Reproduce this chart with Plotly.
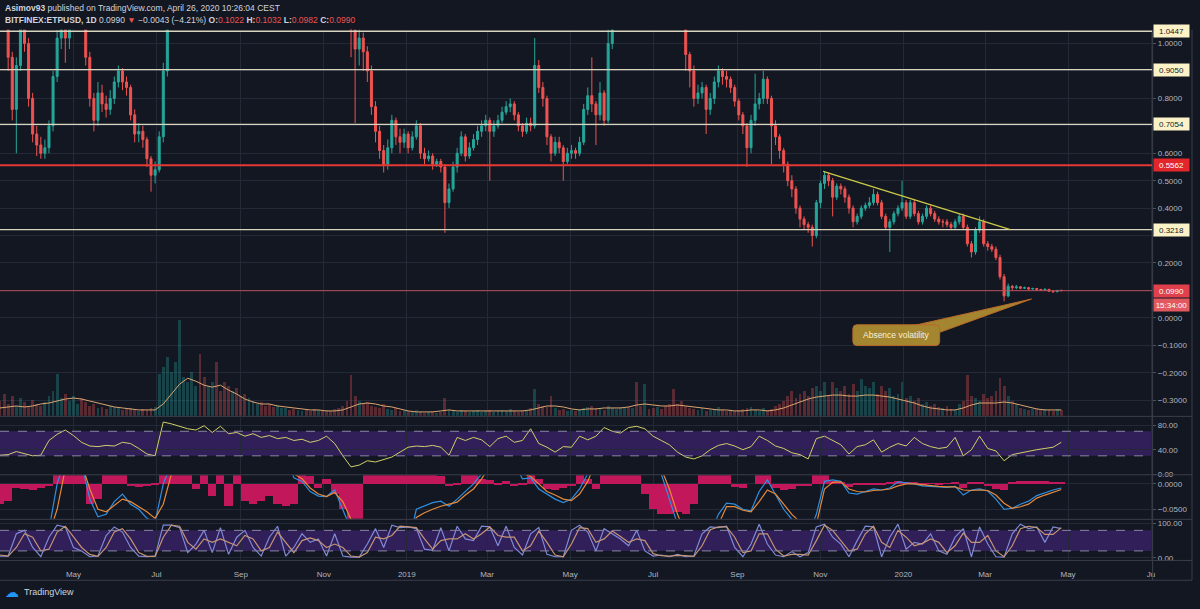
import plotly.graph_objects as go
import pandas as pd

# ---------------- DATA ----------------
start_date = "2018-03-08"          # first candle (3-day steps)
first_open = 1.45

close = [
    1.30, 1.12, 0.95, 0.76, 0.92, 1.10, 1.00, 0.80, 0.67, 0.63,
    0.60, 0.62, 0.70, 0.88, 1.02, 1.10, 1.02, 1.08, 1.12, 1.15,
    1.10, 0.95, 0.80, 0.72, 0.82, 0.78, 0.76, 0.80, 0.86, 0.90,
    0.86, 0.84, 0.74, 0.67, 0.68, 0.65, 0.58, 0.52, 0.54, 0.66,
    0.90, 1.15, 1.40, 1.70, 1.90, 2.10, 2.30, 2.50, 2.60, 2.40,
    2.30, 2.50, 2.70, 2.60, 2.40, 2.20, 2.00, 2.10, 2.00, 1.90,
    1.80, 1.85, 1.95, 2.05, 1.90, 1.75, 1.70, 1.60, 1.65, 1.75,
    1.85, 1.80, 1.70, 1.75, 1.80, 1.72, 1.65, 1.60, 1.62, 1.58,
    1.55, 1.52, 1.48, 1.45, 1.40, 1.30, 1.05, 0.98, 1.02, 0.97,
    0.90, 0.77, 0.68, 0.61, 0.56, 0.62, 0.72, 0.66, 0.64, 0.67,
    0.62, 0.66, 0.70, 0.60, 0.58, 0.59, 0.56, 0.57, 0.55, 0.42,
    0.47, 0.55, 0.60, 0.66, 0.59, 0.62, 0.65, 0.68, 0.70, 0.72,
    0.68, 0.70, 0.72, 0.75, 0.77, 0.78, 0.74, 0.70, 0.68, 0.71,
    0.70, 0.92, 0.84, 0.80, 0.66, 0.60, 0.64, 0.62, 0.57, 0.60,
    0.61, 0.60, 0.64, 0.76, 0.81, 0.78, 0.74, 0.82, 0.72, 1.00,
    1.20, 1.40, 1.60, 1.80, 1.70, 1.90, 1.80, 1.60, 1.70, 1.50,
    1.45, 1.55, 1.50, 1.40, 1.35, 1.30, 1.25, 1.10, 0.96, 0.90,
    0.80, 0.82, 0.84, 0.76, 0.80, 0.86, 0.90, 0.88, 0.87, 0.84,
    0.79, 0.74, 0.70, 0.62, 0.72, 0.78, 0.80, 0.87, 0.80, 0.70,
    0.66, 0.61, 0.56, 0.50, 0.47, 0.40, 0.36, 0.34, 0.33, 0.30,
    0.42, 0.49, 0.52, 0.50, 0.44, 0.48, 0.47, 0.44, 0.40, 0.35,
    0.37, 0.40, 0.41, 0.42, 0.45, 0.42, 0.37, 0.33, 0.35, 0.38,
    0.40, 0.42, 0.37, 0.42, 0.38, 0.35, 0.37, 0.40, 0.38, 0.36,
    0.35, 0.35, 0.34, 0.33, 0.35, 0.37, 0.33, 0.27, 0.24, 0.32,
    0.35, 0.27, 0.26, 0.25, 0.22, 0.15, 0.08, 0.115, 0.11, 0.113,
    0.108, 0.11, 0.105, 0.107, 0.103, 0.101, 0.104, 0.097, 0.095, 0.100, 0.099,
]

high = [
    1.50, 1.33, 1.14, 0.97, 0.95, 1.14, 1.12, 1.02, 0.82, 0.70,
    0.66, 0.65, 0.72, 0.90, 1.05, 1.15, 1.13, 1.12, 1.16, 1.20,
    1.18, 1.12, 0.97, 0.82, 0.86, 0.85, 0.81, 0.83, 0.88, 0.92,
    0.91, 0.88, 0.85, 0.76, 0.71, 0.70, 0.66, 0.59, 0.57, 0.68,
    0.93, 1.20, 1.45, 1.75, 1.95, 2.15, 2.35, 2.60, 2.70, 2.65,
    2.45, 2.55, 2.75, 2.78, 2.65, 2.45, 2.25, 2.15, 2.15, 2.05,
    1.95, 1.90, 2.00, 2.10, 2.08, 1.95, 1.80, 1.75, 1.70, 1.80,
    1.90, 1.88, 1.82, 1.78, 1.84, 1.83, 1.75, 1.68, 1.66, 1.65,
    1.62, 1.58, 1.55, 1.50, 1.47, 1.42, 1.32, 1.08, 1.06, 1.04,
    0.99, 0.92, 0.79, 0.70, 0.63, 0.65, 0.74, 0.73, 0.69, 0.69,
    0.68, 0.68, 0.72, 0.71, 0.62, 0.61, 0.60, 0.58, 0.58, 0.56,
    0.49, 0.57, 0.62, 0.68, 0.67, 0.64, 0.67, 0.70, 0.72, 0.74,
    0.73, 0.72, 0.74, 0.77, 0.79, 0.80, 0.79, 0.75, 0.71, 0.73,
    0.73, 1.02, 0.94, 0.86, 0.81, 0.67, 0.66, 0.66, 0.63, 0.62,
    0.63, 0.62, 0.66, 0.78, 0.84, 0.95, 0.79, 0.86, 0.83, 1.20,
    1.25, 1.45, 1.65, 1.85, 1.85, 1.95, 1.95, 1.85, 1.75, 1.72,
    1.52, 1.60, 1.58, 1.52, 1.42, 1.38, 1.33, 1.28, 1.12, 0.97,
    0.92, 0.85, 0.86, 0.85, 0.82, 0.88, 0.92, 0.91, 0.90, 0.88,
    0.85, 0.80, 0.75, 0.71, 0.74, 0.89, 0.82, 0.90, 0.88, 0.81,
    0.72, 0.67, 0.62, 0.57, 0.52, 0.48, 0.41, 0.37, 0.35, 0.34,
    0.43, 0.50, 0.535, 0.53, 0.51, 0.49, 0.49, 0.48, 0.45, 0.41,
    0.38, 0.41, 0.42, 0.44, 0.47, 0.46, 0.43, 0.38, 0.36, 0.39,
    0.41, 0.50, 0.43, 0.43, 0.43, 0.39, 0.38, 0.41, 0.41, 0.39,
    0.37, 0.36, 0.36, 0.35, 0.36, 0.38, 0.38, 0.34, 0.28, 0.33,
    0.37, 0.36, 0.28, 0.27, 0.26, 0.23, 0.16, 0.125, 0.12, 0.12,
    0.116, 0.114, 0.113, 0.110, 0.109, 0.106, 0.107, 0.105, 0.100, 0.102, 0.1032,
]

low = [
    1.25, 1.08, 0.90, 0.72, 0.60, 0.90, 0.97, 0.77, 0.64, 0.59,
    0.58, 0.58, 0.60, 0.68, 0.86, 0.98, 0.93, 0.98, 1.05, 1.08,
    1.06, 0.92, 0.77, 0.68, 0.70, 0.75, 0.73, 0.74, 0.78, 0.84,
    0.83, 0.81, 0.72, 0.64, 0.64, 0.62, 0.55, 0.46, 0.49, 0.53,
    0.64, 0.88, 1.12, 1.35, 1.65, 1.85, 2.05, 2.25, 2.45, 2.35,
    2.20, 2.25, 2.45, 2.55, 2.35, 2.15, 1.95, 1.95, 1.95, 1.85,
    1.75, 1.76, 1.82, 1.92, 1.85, 1.70, 1.65, 1.55, 1.57, 1.62,
    1.72, 1.76, 1.66, 1.68, 1.73, 1.68, 1.62, 1.56, 1.57, 1.54,
    1.50, 1.48, 1.44, 1.42, 1.36, 1.26, 0.95, 0.71, 0.92, 0.90,
    0.86, 0.74, 0.64, 0.58, 0.53, 0.54, 0.60, 0.63, 0.60, 0.62,
    0.60, 0.61, 0.65, 0.58, 0.56, 0.57, 0.54, 0.55, 0.53, 0.31,
    0.40, 0.46, 0.53, 0.59, 0.57, 0.58, 0.61, 0.63, 0.66, 0.68,
    0.50, 0.66, 0.69, 0.71, 0.74, 0.75, 0.72, 0.68, 0.66, 0.67,
    0.68, 0.69, 0.82, 0.77, 0.63, 0.57, 0.59, 0.60, 0.50, 0.56,
    0.58, 0.58, 0.59, 0.63, 0.74, 0.75, 0.63, 0.72, 0.70, 0.71,
    0.98, 1.18, 1.38, 1.58, 1.65, 1.68, 1.75, 1.55, 1.56, 1.45,
    1.40, 1.42, 1.46, 1.36, 1.32, 1.27, 1.20, 1.06, 0.90, 0.84,
    0.77, 0.78, 0.80, 0.67, 0.74, 0.78, 0.84, 0.85, 0.84, 0.82,
    0.77, 0.72, 0.67, 0.55, 0.60, 0.70, 0.76, 0.78, 0.78, 0.56,
    0.63, 0.58, 0.53, 0.48, 0.44, 0.38, 0.33, 0.32, 0.31, 0.26,
    0.29, 0.40, 0.47, 0.48, 0.37, 0.43, 0.45, 0.42, 0.38, 0.33,
    0.34, 0.36, 0.39, 0.40, 0.41, 0.41, 0.36, 0.32, 0.24, 0.34,
    0.37, 0.39, 0.36, 0.36, 0.37, 0.34, 0.34, 0.36, 0.37, 0.35,
    0.34, 0.33, 0.33, 0.32, 0.32, 0.34, 0.32, 0.26, 0.22, 0.23,
    0.31, 0.26, 0.245, 0.24, 0.21, 0.14, 0.06, 0.075, 0.10, 0.104,
    0.104, 0.105, 0.102, 0.103, 0.100, 0.098, 0.099, 0.095, 0.092, 0.094, 0.0982,
]

# relative volume per candle
volume = [
    15, 22, 12, 20, 10, 18, 14, 9, 16, 12,
    10, 14, 20, 25, 43, 18, 22, 15, 20, 12,
    18, 14, 10, 12, 8, 9, 7, 10, 9, 8,
    6, 7, 8, 6, 5, 7, 6, 8, 9, 43,
    50, 60, 45, 55, 97, 40, 35, 45, 30, 63,
    40, 30, 35, 55, 25, 35, 30, 25, 28, 20,
    22, 18, 15, 12, 14, 10, 12, 9, 11, 8,
    8, 6, 7, 6, 5, 6, 5, 7, 6, 5,
    6, 5, 7, 8, 10, 15, 42, 20, 15, 12,
    14, 10, 9, 8, 12, 7, 6, 8, 5, 6,
    5, 4, 6, 4, 3, 4, 5, 3, 4, 18,
    6, 5, 4, 6, 5, 4, 5, 6, 4, 5,
    6, 4, 5, 6, 5, 7, 5, 4, 6, 5,
    8, 27, 12, 10, 9, 20, 8, 6, 7, 5,
    6, 5, 7, 8, 9, 10, 8, 7, 6, 10,
    8, 7, 9, 8, 9, 8, 35, 10, 32, 7,
    8, 9, 7, 10, 12, 27, 12, 15, 10, 8,
    7, 6, 8, 5, 6, 7, 9, 6, 5, 6,
    5, 6, 7, 8, 9, 6, 5, 8, 6, 7,
    10, 12, 15, 20, 25, 18, 22, 25, 20, 28,
    30, 25, 35, 20, 35, 28, 25, 30, 22, 32,
    25, 38, 30, 28, 35, 22, 30, 25, 28, 20,
    22, 35, 18, 20, 15, 18, 12, 14, 10, 12,
    9, 8, 10, 7, 6, 12, 15, 42, 20, 18,
    15, 22, 18, 20, 25, 39, 30, 20, 15, 12,
    8, 7, 6, 7, 8, 6, 7, 6, 5, 7, 6,
]

# indicators, 6-day steps from start_date
vol_ma = [
    8, 9, 10, 9, 10, 12, 13, 15, 17, 18,
    17, 15, 13, 11, 9, 8, 7, 6, 6, 6,
    12, 22, 32, 38, 35, 31, 29, 31, 26, 22,
    17, 14, 12, 12, 10, 9, 8, 7, 6, 6,
    5, 5, 6, 9, 12, 13, 12, 10, 9, 7,
    5, 4, 4, 4, 5, 6, 5, 5, 5, 5,
    5, 5, 5, 5, 5, 6, 8, 10, 10, 9,
    7, 6, 7, 7, 8, 8, 8, 9, 11, 12,
    11, 10, 10, 11, 10, 9, 8, 7, 6, 6,
    5, 5, 6, 6, 5, 6, 8, 11, 14, 17,
    19, 20, 21, 21, 20, 20, 21, 21, 20, 19,
    17, 15, 13, 10, 8, 7, 6, 6, 8, 11,
    13, 13, 13, 14, 13, 11, 9, 7, 6, 6, 6,
]

rsi = [
    31, 32, 37, 33, 30, 31, 55, 65, 72, 63,
    52, 46, 45, 47, 46, 52, 50, 42, 33, 30,
    85, 82, 78, 74, 72, 79, 68, 78, 66, 68,
    62, 66, 60, 63, 58, 60, 55, 57, 52, 55,
    62, 50, 30, 12, 15, 22, 20, 24, 28, 36,
    44, 46, 45, 47, 44, 31, 60, 55, 60, 56,
    45, 58, 62, 52, 55, 74, 50, 44, 36, 45,
    44, 62, 56, 62, 76, 70, 67, 76, 78, 74,
    62, 55, 48, 36, 28, 25, 30, 40, 47, 50,
    46, 40, 45, 62, 55, 46, 42, 35, 32, 25,
    58, 62, 55, 48, 33, 45, 48, 56, 36, 44,
    50, 46, 60, 50, 45, 42, 44, 60, 30, 40,
    62, 42, 38, 22, 32, 35, 38, 40, 42, 44, 52,
]

macd = [
    -0.1, -0.1, -0.1, -0.1, -0.1, -0.1, -0.09, 0.0, 0.05, 0.06,
    0.04, -0.03, -0.065, -0.06, -0.035, -0.02, -0.04, -0.05, -0.068, -0.075,
    0.0, 0.06, 0.08, 0.08, 0.08, 0.08, 0.08, 0.08, 0.08, 0.08,
    0.08, 0.08, 0.08, 0.08, 0.08, 0.06, 0.012, 0.005, -0.015, -0.024,
    -0.025, -0.012, -0.05, -0.09, -0.12, -0.12, -0.12, -0.12, -0.12, -0.12,
    -0.12, -0.05, -0.044, -0.037, -0.034, -0.044, -0.03, -0.015, 0.0, 0.02,
    0.04, 0.04, 0.04, 0.04, 0.01, 0.012, -0.01, -0.02, -0.03, -0.037,
    -0.03, -0.01, 0.018, 0.05, 0.05, 0.05, 0.05, 0.05, 0.05, 0.05,
    0.05, 0.02, -0.03, -0.08, -0.1, -0.1, -0.1, -0.1, -0.06, -0.038,
    -0.04, -0.05, -0.053, -0.015, 0.008, -0.02, -0.05, -0.07, -0.09, -0.1,
    -0.06, 0.005, 0.008, 0.005, -0.018, -0.02, -0.015, -0.01, -0.012, -0.008,
    0.004, 0.002, 0.0, -0.004, -0.005, -0.006, -0.007, -0.005, -0.022, -0.012,
    -0.01, -0.014, -0.03, -0.05, -0.048, -0.04, -0.034, -0.023, -0.017, -0.012, -0.008,
]

signal = [
    -0.1, -0.1, -0.1, -0.1, -0.1, -0.1, -0.1, -0.05, 0.03, 0.05,
    0.04, -0.01, -0.05, -0.055, -0.042, -0.03, -0.035, -0.045, -0.055, -0.068,
    -0.04, 0.02, 0.07, 0.07, 0.07, 0.07, 0.07, 0.07, 0.07, 0.07,
    0.07, 0.07, 0.07, 0.07, 0.07, 0.06, 0.02, 0.01, -0.008, -0.02,
    -0.025, -0.017, -0.035, -0.07, -0.11, -0.11, -0.11, -0.11, -0.11, -0.11,
    -0.11, -0.066, -0.057, -0.05, -0.044, -0.04, -0.036, -0.022, -0.01, 0.01,
    0.035, 0.035, 0.035, 0.035, 0.02, 0.015, 0.0, -0.015, -0.022, -0.03,
    -0.033, -0.02, 0.005, 0.045, 0.045, 0.045, 0.045, 0.045, 0.045, 0.045,
    0.045, 0.03, -0.01, -0.06, -0.1, -0.1, -0.1, -0.1, -0.08, -0.045,
    -0.045, -0.052, -0.055, -0.035, -0.012, -0.02, -0.04, -0.06, -0.075, -0.09,
    -0.08, -0.01, 0.003, 0.004, -0.01, -0.015, -0.016, -0.013, -0.012, -0.01,
    -0.004, 0.0, 0.0, -0.002, -0.004, -0.005, -0.006, -0.006, -0.012, -0.013,
    -0.012, -0.013, -0.022, -0.038, -0.048, -0.045, -0.04, -0.028, -0.022, -0.016, -0.011,
]

hist = [
    -0.04, -0.035, -0.008, -0.01, -0.012, -0.008, -0.005, 0.03, 0.03, 0.03,
    0.02, -0.04, -0.03, 0.02, 0.03, 0.03, -0.005, -0.006, -0.004, -0.002,
    0.03, 0.03, 0.03, 0.02, -0.01, 0.02, -0.025, 0.02, -0.045, 0.02,
    -0.035, -0.04, -0.035, -0.025, -0.04, -0.045, -0.04, 0.02, 0.015, -0.008,
    0.01, -0.02, -0.05, -0.08, -0.08, 0.03, 0.03, 0.03, 0.03, 0.03,
    0.03, 0.03, 0.02, 0.02, 0.015, -0.004, -0.003, 0.02, 0.02, 0.01,
    0.008, -0.003, 0.005, -0.004, -0.003, 0.02, 0.01, -0.01, -0.012, -0.008,
    -0.005, 0.02, 0.01, -0.01, 0.03, 0.03, 0.03, 0.03, 0.025, -0.02,
    -0.05, -0.06, -0.06, -0.055, -0.06, -0.04, 0.03, 0.03, 0.03, 0.02,
    -0.006, -0.008, 0.0, 0.02, 0.02, -0.008, -0.012, -0.01, -0.005, -0.004,
    0.02, 0.02, 0.006, 0.004, -0.007, -0.003, -0.002, -0.002, -0.001, 0.003,
    0.006, 0.004, 0.002, -0.001, 0.001, -0.001, 0.001, 0.002, -0.008, 0.002,
    0.004, -0.004, -0.01, -0.012, 0.003, 0.005, 0.006, 0.005, 0.005, 0.004, 0.004,
]

stoch_k = [
    5, 5, 70, 80, 30, 3, 60, 95, 90, 30,
    20, 3, 5, 65, 90, 75, 30, 5, 3, 5,
    95, 95, 88, 15, 40, 80, 15, 88, 10, 60,
    80, 30, 5, 60, 92, 5, 30, 70, 45, 55,
    5, 70, 5, 2, 2, 40, 85, 30, 95, 88,
    90, 85, 25, 22, 88, 20, 92, 55, 50, 92,
    90, 35, 92, 30, 8, 70, 88, 10, 3, 3,
    80, 95, 75, 20, 85, 70, 55, 35, 80, 20,
    5, 8, 3, 10, 3, 5, 70, 90, 88, 92,
    30, 3, 40, 98, 40, 8, 3, 18, 3, 15,
    90, 98, 60, 40, 3, 50, 92, 90, 3, 60,
    98, 25, 45, 40, 70, 20, 10, 60, 85, 3,
    90, 40, 3, 2, 70, 98, 85, 90, 45, 90, 85,
]

stoch_d = [
    8, 5, 30, 70, 60, 20, 25, 75, 92, 60,
    30, 10, 4, 30, 75, 85, 55, 15, 4, 4,
    60, 95, 92, 45, 25, 55, 45, 55, 45, 35,
    65, 55, 20, 30, 75, 45, 15, 50, 58, 50,
    30, 40, 30, 5, 2, 15, 60, 55, 65, 92,
    90, 88, 55, 25, 50, 55, 55, 70, 55, 70,
    90, 65, 60, 60, 20, 35, 78, 45, 8, 3,
    40, 88, 85, 45, 55, 78, 62, 45, 55, 50,
    12, 6, 5, 7, 6, 4, 35, 82, 90, 90,
    60, 15, 20, 70, 70, 25, 5, 10, 10, 8,
    50, 95, 80, 50, 20, 25, 70, 92, 45, 30,
    80, 60, 35, 42, 55, 45, 15, 35, 72, 45,
    45, 65, 20, 3, 35, 85, 92, 88, 68, 68, 88,
]

# drawn horizontal levels and the trend line
level_values = [1.0447, 0.9050, 0.7054, 0.5562, 0.3218]
level_kinds = ["sr", "sr", "sr", "key", "sr"]
trend_dates = ["2019-11-03", "2020-03-19 16:00"]
trend_values = [0.534, 0.3218]

x_tick_dates = ["2018-05-01", "2018-07-01", "2018-09-01", "2018-11-01", "2019-01-01",
                "2019-03-01", "2019-05-01", "2019-07-01", "2019-09-01", "2019-11-01",
                "2020-01-01", "2020-03-01", "2020-05-01", "2020-07-01"]
x_tick_text = ["May", "Jul", "Sep", "Nov", "2019", "Mar", "May", "Jul", "Sep", "Nov",
               "2020", "Mar", "May", "Ju"]
price_ticks = [-0.3, -0.2, -0.1, 0.0, 0.1, 0.2, 0.3, 0.4, 0.5, 0.6, 0.7, 0.8, 0.9, 1.0]
hidden_price_ticks = [0.1, 0.3, 0.7, 0.9]

# ---------------- STYLE / LAYOUT ----------------
W, H = 1200, 609
BG = "#131722"
GRID = "#242937"
TXT = "#b2b5be"
SEP = "#3b3f4b"
FONT = "Liberation Sans"
UP, DOWN = "#26a69a", "#ef5350"


def px(x):
    return x / W


def py(y):
    return 1 - y / H


cdates = pd.date_range(start_date, periods=len(close), freq="3D")
idates = pd.date_range(start_date, periods=len(rsi), freq="6D")
opens = [first_open] + close[:-1]
vol_colors = ["rgba(38,166,154,0.32)" if c >= o else "rgba(239,83,80,0.32)"
              for o, c in zip(opens, close)]

XD = [0, px(1155)]
XR = ["2018-03-08", "2020-07-01 19:00"]
D_MAIN = [py(419), py(29)]
D_RSI = [py(478), py(420)]
D_MACD = [py(523), py(479)]
D_STO = [py(565), py(524)]

fig = go.Figure()

fig.add_trace(go.Bar(x=cdates, y=volume, marker=dict(color=vol_colors, line=dict(width=0)),
                     width=3 * 86400000 * 0.7, xaxis="x", yaxis="y2", hoverinfo="skip"))
fig.add_trace(go.Scatter(x=idates, y=vol_ma, mode="lines", line=dict(color="#dba56f", width=1),
                         xaxis="x", yaxis="y2", hoverinfo="skip"))
fig.add_trace(go.Candlestick(
    x=cdates, open=opens, high=high, low=low, close=close, xaxis="x", yaxis="y",
    increasing=dict(line=dict(color=UP, width=1), fillcolor=UP),
    decreasing=dict(line=dict(color=DOWN, width=1), fillcolor=DOWN),
    whiskerwidth=0, hoverinfo="skip"))

fig.add_trace(go.Scatter(x=idates, y=rsi, mode="lines", line=dict(color="#d2cf6a", width=1),
                         xaxis="x2", yaxis="y3", hoverinfo="skip"))

fig.add_trace(go.Bar(x=idates, y=hist, marker=dict(color="#c2185b", line=dict(width=0)),
                     width=6 * 86400000, xaxis="x3", yaxis="y4", hoverinfo="skip"))
fig.add_trace(go.Scatter(x=idates, y=macd, mode="lines", line=dict(color="#2f8fe0", width=1.2),
                         xaxis="x3", yaxis="y4", hoverinfo="skip"))
fig.add_trace(go.Scatter(x=idates, y=signal, mode="lines", line=dict(color="#e58a3a", width=1.2),
                         xaxis="x3", yaxis="y4", hoverinfo="skip"))

fig.add_trace(go.Scatter(x=idates, y=stoch_k, mode="lines", line=dict(color="#7f8ad8", width=1.2),
                         xaxis="x4", yaxis="y5", hoverinfo="skip"))
fig.add_trace(go.Scatter(x=idates, y=stoch_d, mode="lines", line=dict(color="#c49474", width=1.2),
                         xaxis="x4", yaxis="y5", hoverinfo="skip"))


def xax(anchor, show):
    return dict(domain=XD, anchor=anchor, type="date", range=XR, tickvals=x_tick_dates,
                ticktext=x_tick_text, showticklabels=show, showgrid=True, gridcolor=GRID,
                gridwidth=1, zeroline=False, showline=False, ticks="", ticklabelstandoff=8,
                tickfont=dict(size=8, color=TXT, family=FONT), fixedrange=True)


def yax(domain, rng, tv, tt, anchor):
    return dict(domain=domain, range=rng, side="right", anchor=anchor, tickvals=tv, ticktext=tt,
                showgrid=True, gridcolor=GRID, gridwidth=1, zeroline=False, showline=False,
                tickfont=dict(size=8, color=TXT, family=FONT), ticks="outside", ticklen=3,
                tickcolor="#50535e", fixedrange=True)


price_text = ["" if any(abs(v - h) < 1e-9 for h in hidden_price_ticks)
              else ("\u2212" if v < 0 else "") + f"{abs(v):.4f}" for v in price_ticks]

xa = xax("y", False)
xa["rangeslider"] = dict(visible=False)

fig.update_layout(
    width=W, height=H, autosize=False, margin=dict(l=0, r=0, t=0, b=0),
    paper_bgcolor=BG, plot_bgcolor=BG, showlegend=False, bargap=0,
    font=dict(family=FONT, color=TXT, size=8),
    xaxis=xa,
    xaxis2=xax("y3", False),
    xaxis3=xax("y4", False),
    xaxis4=xax("y5", True),
    yaxis=yax(D_MAIN, [-0.3574, 1.0505], price_ticks, price_text, "x"),
    yaxis2=dict(overlaying="y", range=[0, 390], visible=False, anchor="x", fixedrange=True),
    yaxis3=yax(D_RSI, [0, 93.4], [0, 40, 80], ["0.00", "40.00", "80.00"], "x2"),
    yaxis4=yax(D_MACD, [-0.0689, 0.0170], [-0.05, 0.0], ["\u22120.0500", "0.0000"], "x3"),
    yaxis5=yax(D_STO, [-7.8, 110.7], [0, 100], ["0.00", "100.00"], "x4"),
)

shapes = []
# indicator bands and dashed bounds
for yref, lo, hi in (("y3", 30, 70), ("y5", 20, 80)):
    shapes.append(dict(type="rect", xref="paper", x0=0, x1=px(1155), yref=yref, y0=lo, y1=hi,
                       fillcolor="rgba(110,50,200,0.33)", line=dict(width=0), layer="below"))
    for v in (lo, hi):
        shapes.append(dict(type="line", xref="paper", x0=0, x1=px(1155), yref=yref, y0=v, y1=v,
                           line=dict(color="#8a86a8", width=1, dash="dash")))

# horizontal levels
for v, kind in zip(level_values, level_kinds):
    col, wdt = ("#e53935", 2) if kind == "key" else ("#d9d4bd", 1.4)
    shapes.append(dict(type="line", xref="paper", x0=0, x1=px(1155), yref="y", y0=v, y1=v,
                       line=dict(color=col, width=wdt)))
# last price line
shapes.append(dict(type="line", xref="paper", x0=0, x1=px(1155), yref="y", y0=close[-1],
                   y1=close[-1], line=dict(color="#b8505c", width=1)))
# trend line
shapes.append(dict(type="line", xref="x", yref="y", x0=trend_dates[0], y0=trend_values[0],
                   x1=trend_dates[1], y1=trend_values[1], line=dict(color="#cbc948", width=1.3)))

# callout wedge + rounded box
shapes.append(dict(type="path", xref="paper", yref="paper",
                   path=f"M {px(915)} {py(328)} L {px(1034)} {py(301)} L {px(941)} {py(335)} Z",
                   fillcolor="#a3862f", line=dict(color="#b8682a", width=1)))
bx0, bx1, by0, by1, r = 855, 942, 327, 348, 4
rr = (f"M {px(bx0 + r)} {py(by0)} L {px(bx1 - r)} {py(by0)} "
      f"Q {px(bx1)} {py(by0)} {px(bx1)} {py(by0 + r)} L {px(bx1)} {py(by1 - r)} "
      f"Q {px(bx1)} {py(by1)} {px(bx1 - r)} {py(by1)} L {px(bx0 + r)} {py(by1)} "
      f"Q {px(bx0)} {py(by1)} {px(bx0)} {py(by1 - r)} L {px(bx0)} {py(by0 + r)} "
      f"Q {px(bx0)} {py(by0)} {px(bx0 + r)} {py(by0)} Z")
shapes.append(dict(type="path", xref="paper", yref="paper", path=rr,
                   fillcolor="#a3862f", line=dict(color="#b8682a", width=1)))

# panel separators / borders
for yy in (419.5, 478.5, 523.5, 565, 585):
    shapes.append(dict(type="line", xref="paper", yref="paper", x0=0, x1=px(1195),
                       y0=py(yy), y1=py(yy), line=dict(color=SEP, width=1)))
for xx in (1155.5, 1195):
    shapes.append(dict(type="line", xref="paper", yref="paper", x0=px(xx), x1=px(xx),
                       y0=py(29), y1=py(585), line=dict(color=SEP, width=1)))

fig.update_layout(shapes=shapes)

ann = []


def price_label(val, text, bg, fg, yshift=0):
    ann.append(dict(xref="paper", x=px(1156), xanchor="left", yref="y", y=val, yanchor="middle",
                    yshift=yshift, text=text, showarrow=False, bgcolor=bg, width=32,
                    align="center", borderpad=1.5, font=dict(size=8, color=fg, family=FONT)))


for v, kind in zip(level_values, level_kinds):
    if kind == "key":
        price_label(v, f"{v:.4f}", "#e3262b", "#ffffff")
    else:
        price_label(v, f"{v:.4f}", "#fbf2c8", "#131722")
price_label(close[-1], f"{close[-1]:.4f}", "#e0404c", "#ffffff")
price_label(close[-1], "15:34:00", "#e2585f", "#ffffff", yshift=-14)

ann.append(dict(xref="paper", yref="paper", x=px(898.5), y=py(337.5), xanchor="center",
                yanchor="middle", text="Absence volatility", showarrow=False,
                font=dict(size=8.5, color="#f6f0dc", family=FONT)))

ann.append(dict(xref="paper", yref="paper", x=px(3), y=py(7), xanchor="left", yanchor="middle",
                text="<b>Asimov93</b> published on TradingView.com, April 26, 2020 10:26:04 CEST",
                showarrow=False, font=dict(size=8.5, color="#d1d4dc", family=FONT)))
red = "#ef5350"
hdr = ("<b>BITFINEX:ETPUSD, 1D</b> 0.0990 "
       f"<span style='color:{red}'>\u25bc</span> \u22120.0043 (\u22124.21%) "
       f"<b>O:</b><span style='color:{red}'>0.1022</span> "
       f"<b>H:</b><span style='color:{red}'>0.1032</span> "
       f"<b>L:</b><span style='color:{red}'>0.0982</span> "
       f"<b>C:</b><span style='color:{red}'>0.0990</span>")
ann.append(dict(xref="paper", yref="paper", x=px(3), y=py(19), xanchor="left", yanchor="middle",
                text=hdr, showarrow=False, font=dict(size=8.5, color="#d1d4dc", family=FONT)))

ann.append(dict(xref="paper", yref="paper", x=px(3), y=py(597), xanchor="left", yanchor="middle",
                text="\u2601", showarrow=False, font=dict(size=14, color="#2196f3", family="DejaVu Sans")))
ann.append(dict(xref="paper", yref="paper", x=px(22), y=py(597), xanchor="left", yanchor="middle",
                text="TradingView", showarrow=False, font=dict(size=9, color="#d1d4dc", family=FONT)))

fig.update_layout(annotations=ann)

fig.write_html("out.html", include_plotlyjs=True, config={"displayModeBar": False},
               post_script="document.body.style.margin='0';document.body.style.background='#131722';")
